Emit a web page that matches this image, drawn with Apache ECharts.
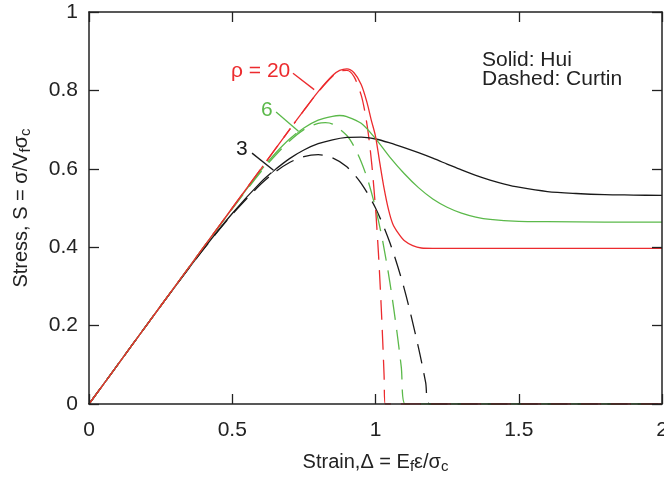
<!DOCTYPE html>
<html>
<head>
<meta charset="utf-8">
<script src="https://cdn.jsdelivr.net/npm/echarts@6/dist/echarts.min.js"></script>
<style>
  html, body { margin: 0; padding: 0; background: #fff; }
  #chart { width: 664px; height: 478px; }
</style>
</head>
<body>
<div id="chart"></div>
<script>
// Normalised strain / stress for fibre bundles, Weibull shape rho = 3, 6, 20.
// Solid curves: Hui model; dashed curves: Curtin model.

const xTicks = [0, 0.5, 1, 1.5, 2];
const yTicks = [0, 0.2, 0.4, 0.6, 0.8, 1];

// Hui, rho = 20
const strainHui20 = [0, 0.1, 0.2, 0.3, 0.4, 0.5, 0.6, 0.7, 0.75, 0.8, 0.85, 0.875, 0.9, 0.925, 0.95, 0.97, 0.985, 1.0, 1.015, 1.03, 1.045, 1.06, 1.08, 1.1, 1.13, 1.16, 1.2, 1.3, 1.4, 1.6, 1.8, 2.0];
const stressHui20 = [0, 0.1, 0.2, 0.3, 0.4, 0.5, 0.6, 0.7, 0.749, 0.797, 0.838, 0.851, 0.855, 0.845, 0.815, 0.77, 0.725, 0.683, 0.615, 0.55, 0.497, 0.46, 0.435, 0.417, 0.404, 0.398, 0.397, 0.397, 0.397, 0.397, 0.397, 0.397];

// Hui, rho = 6
const strainHui6 = [0, 0.1, 0.2, 0.3, 0.4, 0.5, 0.6, 0.65, 0.7, 0.75, 0.8, 0.85, 0.875, 0.9, 0.95, 1.0, 1.05, 1.1, 1.15, 1.2, 1.25, 1.3, 1.35, 1.4, 1.5, 1.6, 1.8, 2.0];
const stressHui6 = [0, 0.1, 0.2, 0.3, 0.4, 0.499, 0.596, 0.639, 0.676, 0.704, 0.724, 0.734, 0.736, 0.733, 0.716, 0.677, 0.630, 0.588, 0.552, 0.523, 0.502, 0.487, 0.477, 0.471, 0.466, 0.465, 0.464, 0.464];

// Hui, rho = 3
const strainHui3 = [0, 0.1, 0.2, 0.3, 0.4, 0.5, 0.6, 0.65, 0.7, 0.75, 0.8, 0.85, 0.9, 0.95, 1.0, 1.05, 1.1, 1.15, 1.2, 1.25, 1.3, 1.35, 1.4, 1.45, 1.5, 1.6, 1.7, 1.8, 1.9, 2.0];
const stressHui3 = [0, 0.1, 0.2, 0.299, 0.396, 0.486, 0.566, 0.598, 0.626, 0.648, 0.664, 0.674, 0.680, 0.681, 0.676, 0.666, 0.654, 0.641, 0.627, 0.612, 0.597, 0.583, 0.571, 0.561, 0.553, 0.542, 0.537, 0.534, 0.533, 0.532];

// Curtin, rho = 20
const strainCurtin20 = [0, 0.1, 0.2, 0.3, 0.4, 0.5, 0.6, 0.7, 0.75, 0.8, 0.85, 0.875, 0.9, 0.925, 0.95, 0.9625, 0.975, 0.9875, 1.0, 1.005, 1.01, 1.015, 1.02, 1.025, 1.03, 1.034, 1.2, 1.4, 1.6, 1.8, 2.0];
const stressCurtin20 = [0, 0.1, 0.2, 0.3, 0.4, 0.5, 0.6, 0.7, 0.749, 0.796, 0.836, 0.849, 0.851, 0.835, 0.788, 0.747, 0.689, 0.608, 0.5, 0.447, 0.388, 0.321, 0.247, 0.164, 0.072, 0, 0, 0, 0, 0, 0];

// Curtin, rho = 6
const strainCurtin6 = [0, 0.1, 0.2, 0.3, 0.4, 0.5, 0.6, 0.65, 0.7, 0.75, 0.8, 0.825, 0.85, 0.9, 0.925, 0.95, 0.975, 1.0, 1.025, 1.05, 1.075, 1.09, 1.104, 1.2, 1.4, 1.6, 1.8, 2.0];
const stressCurtin6 = [0, 0.1, 0.2, 0.3, 0.399, 0.498, 0.592, 0.634, 0.671, 0.700, 0.716, 0.718, 0.714, 0.685, 0.657, 0.618, 0.567, 0.5, 0.416, 0.311, 0.183, 0.094, 0, 0, 0, 0, 0, 0];

// Curtin, rho = 3
const strainCurtin3 = [0, 0.1, 0.2, 0.3, 0.4, 0.5, 0.6, 0.65, 0.7, 0.75, 0.8, 0.85, 0.9, 0.95, 1.0, 1.05, 1.1, 1.15, 1.175, 1.189, 1.4, 1.6, 1.8, 2.0];
const stressCurtin3 = [0, 0.1, 0.2, 0.299, 0.395, 0.484, 0.561, 0.592, 0.616, 0.631, 0.636, 0.628, 0.605, 0.563, 0.5, 0.412, 0.295, 0.144, 0.055, 0, 0, 0, 0, 0];

// Label leader lines (start and end, in strain / stress units)
const leader20Strain = [0.712, 0.786];
const leader20Stress = [0.844, 0.802];
const leader6Strain = [0.653, 0.731];
const leader6Stress = [0.745, 0.696];
const leader3Strain = [0.569, 0.644];
const leader3Stress = [0.640, 0.596];

const RED = '#ec2b2e';
const GREEN = '#5bb94a';
const BLACK = '#1a1a1a';
const FONT = "'Liberation Sans', Arial, Helvetica, sans-serif";

const pairs = (xs, ys) => xs.map((x, i) => [x, ys[i]]);

function curve(name, xs, ys, color, dashed) {
  return {
    name: name,
    type: 'line',
    data: pairs(xs, ys),
    showSymbol: false,
    smooth: 0.3,
    silent: true,
    clip: true,
    lineStyle: { color: color, width: 1.3, type: dashed ? [20, 10] : 'solid' }
  };
}

function leaderHalo(xs, ys) {
  return {
    type: 'line', data: pairs(xs, ys), showSymbol: false, silent: true,
    lineStyle: { color: '#ffffff', width: 6, cap: 'butt' }
  };
}
function leader(xs, ys, color) {
  return {
    type: 'line', data: pairs(xs, ys), showSymbol: false, silent: true,
    lineStyle: { color: color, width: 1.3 }
  };
}

const axisLineStyle = { color: '#222', width: 1.5 };
const tickStyle = () => ({ show: true, inside: true, length: 10, lineStyle: { color: '#222', width: 1.3 } });

const chart = echarts.init(document.getElementById('chart'), null, { renderer: 'canvas' });

chart.setOption({
  animation: false,
  backgroundColor: '#ffffff',
  textStyle: { fontFamily: FONT },
  grid: { left: 89, right: 2, top: 12, bottom: 74, containLabel: false, outerBoundsMode: 'none' },
  xAxis: [{
    type: 'value', min: xTicks[0], max: xTicks[xTicks.length - 1], interval: 0.5,
    position: 'bottom', z: 10,
    axisLine: { show: true, onZero: false, lineStyle: axisLineStyle },
    axisTick: tickStyle(),
    splitLine: { show: false },
    axisLabel: { fontSize: 21, color: '#222', margin: 16, fontFamily: FONT },
    name: 'Strain,Δ = E{s|f}ε/σ{s|c}',
    nameLocation: 'middle',
    nameGap: 46,
    nameTextStyle: {
      fontSize: 20, color: '#222', fontFamily: FONT, lineHeight: 24,
      rich: { s: { fontSize: 15, lineHeight: 12, verticalAlign: 'bottom', color: '#222', fontFamily: FONT } }
    }
  }, {
    type: 'value', min: xTicks[0], max: xTicks[xTicks.length - 1], interval: 0.5,
    position: 'top', z: 10,
    axisLine: { show: true, onZero: false, lineStyle: axisLineStyle },
    axisTick: tickStyle(),
    splitLine: { show: false },
    axisLabel: { show: false }
  }],
  yAxis: [{
    type: 'value', min: yTicks[0], max: yTicks[yTicks.length - 1], interval: 0.2,
    position: 'left', z: 10,
    axisLine: { show: true, onZero: false, lineStyle: axisLineStyle },
    axisTick: tickStyle(),
    splitLine: { show: false },
    axisLabel: { fontSize: 21, color: '#222', margin: 11, fontFamily: FONT },
    name: 'Stress, S = σ/V{s|f}σ{s|c}',
    nameLocation: 'middle',
    nameGap: 56,
    nameTextStyle: {
      fontSize: 20, color: '#222', fontFamily: FONT, lineHeight: 24,
      rich: { s: { fontSize: 15, lineHeight: 12, verticalAlign: 'bottom', color: '#222', fontFamily: FONT } }
    }
  }, {
    type: 'value', min: yTicks[0], max: yTicks[yTicks.length - 1], interval: 0.2,
    position: 'right', z: 10,
    axisLine: { show: true, onZero: false, lineStyle: axisLineStyle },
    axisTick: tickStyle(),
    splitLine: { show: false },
    axisLabel: { show: false }
  }],
  series: [
    curve('Curtin rho=3', strainCurtin3, stressCurtin3, BLACK, true),
    curve('Curtin rho=6', strainCurtin6, stressCurtin6, GREEN, true),
    curve('Curtin rho=20', strainCurtin20, stressCurtin20, RED, true),
    curve('Hui rho=3', strainHui3, stressHui3, BLACK, false),
    curve('Hui rho=6', strainHui6, stressHui6, GREEN, false),
    curve('Hui rho=20', strainHui20, stressHui20, RED, false),
    leaderHalo(leader20Strain, leader20Stress),
    leaderHalo(leader6Strain, leader6Stress),
    leaderHalo(leader3Strain, leader3Stress),
    leader(leader20Strain, leader20Stress, RED),
    leader(leader6Strain, leader6Stress, GREEN),
    leader(leader3Strain, leader3Stress, BLACK)
  ],
  graphic: [
    { type: 'text', z: 100, left: 231, top: 61, style: { text: 'ρ = 20', fill: RED, font: '21px ' + FONT } },
    { type: 'text', z: 100, left: 261, top: 100, style: { text: '6', fill: GREEN, font: '21px ' + FONT } },
    { type: 'text', z: 100, left: 236, top: 139, style: { text: '3', fill: BLACK, font: '21px ' + FONT } },
    { type: 'text', z: 100, left: 482, top: 50, style: { text: 'Solid: Hui', fill: '#222', font: '21px ' + FONT } },
    { type: 'text', z: 100, left: 482, top: 69, style: { text: 'Dashed: Curtin', fill: '#222', font: '21px ' + FONT } }
  ]
});
</script>
</body>
</html>
